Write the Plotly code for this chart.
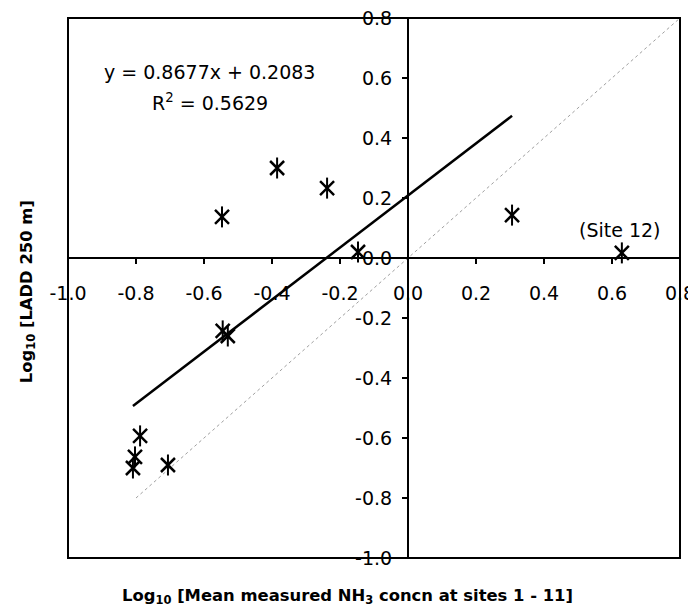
import plotly.graph_objects as go

# Data (log10 values)
nh3_log = [-0.809, -0.803, -0.788, -0.706, -0.545, -0.530, -0.547, -0.385, -0.238, -0.147, 0.306, 0.629]
ladd_log = [-0.700, -0.663, -0.593, -0.690, -0.243, -0.260, 0.137, 0.300, 0.233, 0.020, 0.143, 0.017]
fit_slope = 0.8677
fit_intercept = 0.2083
fit_r2 = 0.5629
one_to_one = [-0.8, 0.8]
tick_vals = [-1.0, -0.8, -0.6, -0.4, -0.2, 0.0, 0.2, 0.4, 0.6, 0.8]
tick_text = ["-1.0", "-0.8", "-0.6", "-0.4", "-0.2", "0.0", "0.2", "0.4", "0.6", "0.8"]
axis_range = [-1.0, 0.8]

font_family = "DejaVu Sans"

# regression over sites 1-11
fit_x = [min(nh3_log[:11]), max(nh3_log[:11])]
fit_y = [fit_slope * v + fit_intercept for v in fit_x]

fig = go.Figure()
fig.add_trace(go.Scatter(x=one_to_one, y=one_to_one, mode="lines",
                         line=dict(color="#a0a0a0", width=1, dash="dot"),
                         showlegend=False, hoverinfo="skip"))
fig.add_trace(go.Scatter(x=fit_x, y=fit_y, mode="lines",
                         line=dict(color="black", width=2.5),
                         showlegend=False))
fig.add_trace(go.Scatter(x=nh3_log, y=ladd_log, mode="markers",
                         marker=dict(symbol="x-thin-open", size=14, color="black",
                                     line=dict(color="black", width=2.5)),
                         showlegend=False))
fig.add_trace(go.Scatter(x=nh3_log, y=ladd_log, mode="markers",
                         marker=dict(symbol="line-ns-open", size=15, color="black",
                                     line=dict(color="black", width=2)),
                         showlegend=False))

zero_frac = (0 - axis_range[0]) / (axis_range[1] - axis_range[0])

# page body has an 8px default margin; compensate so the plot box lands where the reference has it
fig.update_layout(
    width=688, height=602,
    margin=dict(l=60, r=16, t=10, b=52),
    paper_bgcolor="white", plot_bgcolor="white",
    font=dict(family=font_family, size=19, color="black"),
    xaxis=dict(range=axis_range, autorange=False, anchor="free", position=zero_frac,
               automargin=False, ticklabeloverflow="allow",
               showline=True, linewidth=2, linecolor="black",
               ticks="outside", ticklen=5, tickwidth=2, tickcolor="black",
               tickvals=tick_vals, ticktext=tick_text, ticklabelstandoff=13,
               showgrid=False, zeroline=False),
    yaxis=dict(range=axis_range, autorange=False, anchor="free", position=zero_frac,
               automargin=False, ticklabeloverflow="allow",
               showline=True, linewidth=2, linecolor="black",
               ticks="outside", ticklen=5, tickwidth=2, tickcolor="black",
               tickvals=tick_vals, ticktext=tick_text, ticklabelstandoff=6,
               showgrid=False, zeroline=False),
    shapes=[dict(type="rect", xref="x domain", yref="y domain", x0=0, x1=1, y0=0, y1=1,
                 line=dict(color="black", width=2), layer="above")],
    annotations=[
        dict(x=-0.585, y=0.62, xref="x", yref="y", text="y = 0.8677x + 0.2083",
             showarrow=False, font=dict(size=19)),
        dict(x=-0.582, y=0.52, xref="x", yref="y", text="R<sup>2</sup> = 0.5629",
             showarrow=False, font=dict(size=19)),
        dict(x=0.623, y=0.093, xref="x", yref="y", text="(Site 12)",
             showarrow=False, font=dict(size=19)),
        dict(x=0.4575, y=-0.0704, xref="paper", yref="paper",
             text="Log<sub>10</sub> [Mean measured NH<sub>3</sub> concn at sites 1 - 11]",
             showarrow=False, font=dict(size=16.4, family="DejaVu Sans", weight="bold"),
             xanchor="center", yanchor="middle"),
        dict(x=-0.067, y=0.494, xref="paper", yref="paper",
             text="Log<sub>10</sub> [LADD 250 m]", textangle=-90,
             showarrow=False, font=dict(size=16.4, family="DejaVu Sans", weight="bold"),
             xanchor="center", yanchor="middle"),
    ],
)

fig.write_html("out.html")
